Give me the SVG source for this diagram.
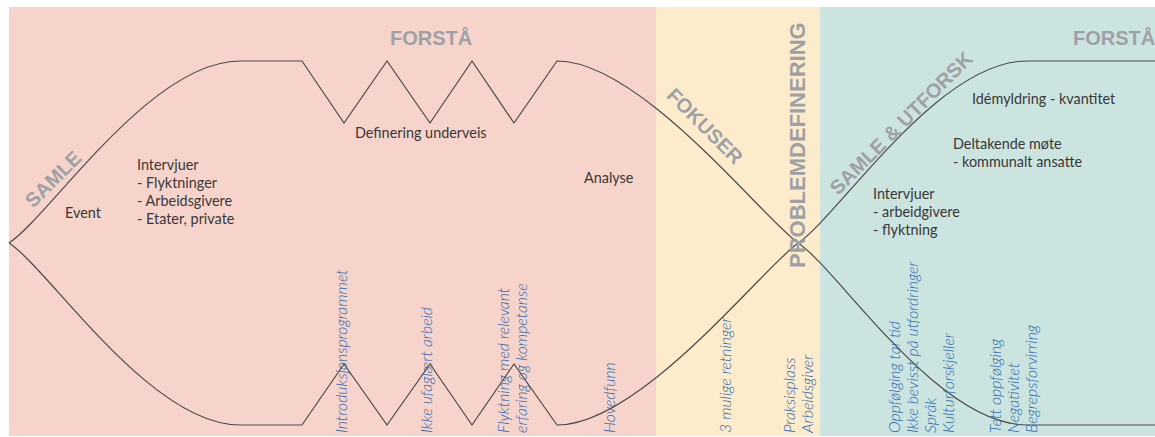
<svg xmlns="http://www.w3.org/2000/svg" width="1155" height="437" viewBox="0 0 1155 437">
  <style>
    .phase { font-family: "Liberation Sans", Arial, sans-serif; font-weight: bold; font-size: 20px; fill: #9da1a6; }
    .note { font-family: Lato, "Open Sans", sans-serif; font-weight: 400; font-size: 14.4px; fill: #383838; }
    .find { font-family: Lato, "Open Sans", sans-serif; font-weight: 300; font-style: italic; font-size: 15.8px; fill: #2a68b0; }
    .wave { fill: none; stroke: #4a4a4a; stroke-width: 1.2; stroke-linejoin: miter; }
  </style>

  <!-- phase bands -->
  <g id="bands">
    <rect x="0" y="0" width="1155" height="437" fill="#ffffff"/>
    <rect x="9" y="7" width="647" height="429" fill="#f7d4cb"/>
    <rect x="656" y="7" width="164" height="429" fill="#fdeccc"/>
    <rect x="820" y="7" width="335" height="429" fill="#cce4e0"/>
  </g>

  <!-- diverge / converge curves -->
  <g id="connectors">
    <path class="wave" d="M9,243 C50,216 150,61 240,61 L302,61 L344,123 L387,61 L430,123 L472,61 L514,123 L557,61 C640,61 760,215 798,243 C839,216 937,61 1027,61 L1155,61"/>
    <path class="wave" d="M9,243 C50,270 150,425 240,425 L302,425 L344,364 L387,425 L430,364 L472,425 L514,364 L557,425 C640,425 760,271 798,243 C839,270 937,425 1027,425 L1155,425"/>
  </g>

  <!-- phase titles -->
  <g id="phase-samle"><text class="phase" text-anchor="middle" transform="translate(58,184) rotate(-45)">SAMLE</text></g>
  <g id="phase-forsta-1"><text class="phase" x="390" y="45">FORSTÅ</text></g>
  <g id="phase-fokuser"><text class="phase" text-anchor="middle" transform="translate(700,131) rotate(45)">FOKUSER</text></g>
  <g id="phase-problemdefinering"><text class="phase" style="font-size:22px" transform="translate(805,268) rotate(-90)">PROBLEMDEFINERING</text></g>
  <g id="phase-samle-utforsk"><text class="phase" text-anchor="middle" transform="translate(906,128) rotate(-45)">SAMLE &amp; UTFORSK</text></g>
  <g id="phase-forsta-2"><text class="phase" x="1073" y="45">FORSTÅ</text></g>

  <!-- activity notes -->
  <g id="note-event"><text class="note" x="65" y="218">Event</text></g>
  <g id="note-intervjuer-1">
    <text class="note" x="137" y="170">Intervjuer</text>
    <text class="note" x="137" y="188">- Flyktninger</text>
    <text class="note" x="137" y="206">- Arbeidsgivere</text>
    <text class="note" x="137" y="224">- Etater, private</text>
  </g>
  <g id="note-definering"><text class="note" x="355" y="138">Definering underveis</text></g>
  <g id="note-analyse"><text class="note" x="584" y="183">Analyse</text></g>
  <g id="note-idemyldring"><text class="note" x="972" y="104">Idémyldring - kvantitet</text></g>
  <g id="note-deltakende">
    <text class="note" x="953" y="149">Deltakende møte</text>
    <text class="note" x="953" y="167">- kommunalt ansatte</text>
  </g>
  <g id="note-intervjuer-2">
    <text class="note" x="873" y="199">Intervjuer</text>
    <text class="note" x="873" y="217">- arbeidgivere</text>
    <text class="note" x="873" y="235">- flyktning</text>
  </g>

  <!-- findings, set vertically -->
  <g id="find-intro"><text class="find" transform="translate(347,433) rotate(-90)">Introduksjonsprogrammet</text></g>
  <g id="find-ufaglaert"><text class="find" transform="translate(432,433) rotate(-90)">Ikke ufaglært arbeid</text></g>
  <g id="find-flyktning">
    <text class="find" transform="translate(509,433) rotate(-90)">Flyktning med relevant</text>
    <text class="find" transform="translate(527,433) rotate(-90)">erfaring og kompetanse</text>
  </g>
  <g id="find-hovedfunn"><text class="find" transform="translate(615,433) rotate(-90)">Hovedfunn</text></g>
  <g id="find-retninger"><text class="find" transform="translate(731,433) rotate(-90)">3 mulige retninger</text></g>
  <g id="find-praksis">
    <text class="find" transform="translate(795,433) rotate(-90)">Praksisplass</text>
    <text class="find" transform="translate(813,433) rotate(-90)">Arbeidsgiver</text>
  </g>
  <g id="find-oppfolging">
    <text class="find" transform="translate(900,433) rotate(-90)">Oppfølging tar tid</text>
    <text class="find" transform="translate(918,433) rotate(-90)">Ikke bevisst på utfordringer</text>
    <text class="find" transform="translate(936,433) rotate(-90)">Språk</text>
    <text class="find" transform="translate(954,433) rotate(-90)">Kulturforskjeller</text>
  </g>
  <g id="find-tett">
    <text class="find" transform="translate(1001,433) rotate(-90)">Tett oppfølging</text>
    <text class="find" transform="translate(1019,433) rotate(-90)">Negativitet</text>
    <text class="find" transform="translate(1037,433) rotate(-90)">Begrepsforvirring</text>
  </g>
</svg>
